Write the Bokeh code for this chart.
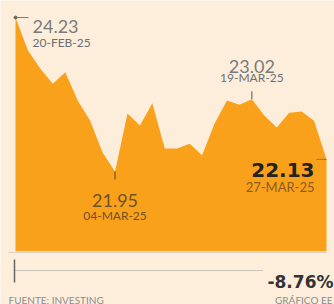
import math
from bokeh.plotting import figure
from bokeh.models import Range1d
from bokeh.core.properties import value
from bokeh.embed import file_html
from bokeh.resources import INLINE

# ---- data ----
dates = ["20-FEB-25", "21-FEB-25", "24-FEB-25", "25-FEB-25", "26-FEB-25", "27-FEB-25",
         "28-FEB-25", "03-MAR-25", "04-MAR-25", "05-MAR-25", "06-MAR-25", "07-MAR-25",
         "10-MAR-25", "11-MAR-25", "12-MAR-25", "13-MAR-25", "14-MAR-25", "17-MAR-25",
         "18-MAR-25", "19-MAR-25", "20-MAR-25", "21-MAR-25", "24-MAR-25", "25-MAR-25",
         "26-MAR-25", "27-MAR-25"]
prices = [24.23, 23.74, 23.47, 23.25, 23.42, 23.00, 22.70, 22.23, 21.95, 22.81,
          22.63, 22.96, 22.29, 22.29, 22.36, 22.19, 22.66, 23.00, 22.94, 23.02,
          22.78, 22.60, 22.82, 22.84, 22.70, 22.13]
floor_value = 20.77
change_label = "-8.76%"
source_label = "FUENTE: INVESTING"
credit_label = "GRÁFICO EE"

idx = list(range(len(prices)))
i_max = prices.index(max(prices))
i_min = prices.index(min(prices))
i_peak2 = 19
i_last = len(prices) - 1

BG = "#fdeedc"
ORANGE = "#f9a11b"
GRAY = "#7b7b7b"
BROWN = "#6e5128"

W, H = 334, 304
p = figure(width=W, height=H, x_range=Range1d(-1.206, 25.643),
           y_range=Range1d(19.981, 24.482), output_backend="svg",
           toolbar_location=None, min_border=0)
p.axis.visible = False
p.grid.visible = False
p.outline_line_color = None
p.background_fill_color = BG
p.border_fill_color = BG
p.extra_x_ranges = {"px": Range1d(0, W)}
p.extra_y_ranges = {"px": Range1d(H, 0)}

# area
p.varea(x=idx, y1=[floor_value] * len(idx), y2=prices, fill_color=ORANGE)

LATO = value("Lato")
DJ = value("DejaVu Sans")

# first point (max)
p.ray(x=[idx[i_max]], y=[prices[i_max]], length=13, length_units="screen", angle=0,
      line_color=GRAY, line_width=1)
p.scatter(x=[idx[i_max]], y=[prices[i_max]], size=3, color="#6a6a5a")
p.text(x=[idx[i_max]], y=[prices[i_max]], text=[f"{prices[i_max]:.2f}"], x_offset=17, y_offset=9,
       text_font=LATO, text_font_size="18px", text_color=GRAY, text_baseline="alphabetic")
p.text(x=[idx[i_max]], y=[prices[i_max]], text=[dates[i_max]], x_offset=17, y_offset=25,
       text_font=LATO, text_font_size="12px", text_color="#6e6e6e", text_baseline="alphabetic")

# second peak
p.ray(x=[idx[i_peak2]], y=[prices[i_peak2]], length=8, length_units="screen", angle=math.pi / 2,
      line_color="#555", line_width=1)
p.text(x=[idx[i_peak2]], y=[prices[i_peak2]], text=[f"{prices[i_peak2]:.2f}"], y_offset=-33,
       text_font=LATO, text_font_size="18px", text_color=GRAY, text_align="center",
       text_baseline="alphabetic")
p.text(x=[idx[i_peak2]], y=[prices[i_peak2]], text=[dates[i_peak2]], y_offset=-22,
       text_font=LATO, text_font_size="12px", text_color="#6e6e6e", text_align="center",
       text_baseline="alphabetic")

# minimum
p.ray(x=[idx[i_min]], y=[prices[i_min]], length=8, length_units="screen", angle=-math.pi / 2,
      line_color="#5a4020", line_width=1)
p.text(x=[idx[i_min]], y=[prices[i_min]], text=[f"{prices[i_min]:.2f}"], y_offset=29,
       text_font=LATO, text_font_size="18px", text_color=BROWN, text_align="center",
       text_baseline="alphabetic")
p.text(x=[idx[i_min]], y=[prices[i_min]], text=[dates[i_min]], y_offset=44,
       text_font=LATO, text_font_size="12px", text_color=BROWN, text_align="center",
       text_baseline="alphabetic")

# last point
p.ray(x=[idx[i_last]], y=[prices[i_last]], length=10, length_units="screen", angle=math.pi,
      line_color="#777", line_width=1)
p.text(x=[idx[i_last]], y=[prices[i_last]], text=[f"{prices[i_last]:.2f}"], x_offset=-12, y_offset=11,
       text_font=DJ, text_font_style="bold", text_font_size="20px", text_color="#222222",
       text_align="right", text_baseline="alphabetic")
p.text(x=[idx[i_last]], y=[prices[i_last]], text=[dates[i_last]], x_offset=-12, y_offset=28,
       text_font=LATO, text_font_size="13px", text_color="#8a5c1e",
       text_align="right", text_baseline="alphabetic")

# footer (layout in page pixels)
p.segment(x0=[8], y0=[252], x1=[326], y1=[252], x_range_name="px", y_range_name="px",
          line_color="#d8cfc4", line_width=1)
p.segment(x0=[14], y0=[259], x1=[14], y1=[282], x_range_name="px", y_range_name="px",
          line_color="#666", line_width=1.5)
p.segment(x0=[15], y0=[270], x1=[262], y1=[270], x_range_name="px", y_range_name="px",
          line_color="#9a9a9a", line_width=1, line_dash="1 1")
p.text(x=[333], y=[281], text=[change_label], x_range_name="px", y_range_name="px",
       text_font=DJ, text_font_style="bold", text_font_size="17px", text_color="#333333",
       text_align="right", text_baseline="alphabetic")
p.text(x=[8], y=[299], text=[source_label], x_range_name="px", y_range_name="px",
       text_font=LATO, text_font_size="10px", text_color="#8c8c8c", text_baseline="alphabetic")
p.text(x=[332], y=[299], text=[credit_label], x_range_name="px", y_range_name="px",
       text_font=LATO, text_font_size="10px", text_color="#8c8c8c", text_align="right",
       text_baseline="alphabetic")

open("out.html", "w").write(file_html(p, INLINE))
